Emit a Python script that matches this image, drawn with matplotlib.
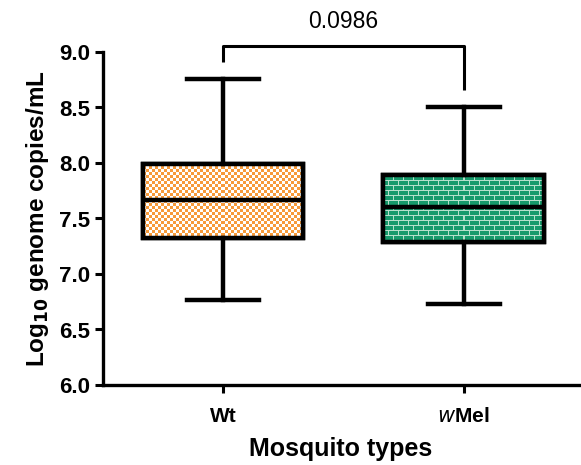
import numpy as np
import matplotlib
matplotlib.use("Agg")
import matplotlib.pyplot as plt

# ---- data ----
categories = ["Wt", "$\\it{w}$Mel"]
whisker_low = [6.77, 6.73]
q1 = [7.32, 7.29]
median = [7.67, 7.60]
q3 = [7.99, 7.89]
whisker_high = [8.76, 8.50]
p_value_text = "0.0986"
yticks = [6.0, 6.5, 7.0, 7.5, 8.0, 8.5, 9.0]

face_colors = ["#F79A3A", "#179A6B"]

plt.rcParams['font.family'] = ['Liberation Sans', 'DejaVu Sans']

fig = plt.figure(figsize=(5.81, 4.65), dpi=100)
ax = fig.add_axes([103/581, 80/465, 476/581, 333/465])

positions = [0, 1]
stats = []
for i in range(2):
    stats.append(dict(med=median[i], q1=q1[i], q3=q3[i],
                      whislo=whisker_low[i], whishi=whisker_high[i],
                      fliers=[], label=categories[i]))

bp = ax.bxp(stats, positions=positions, widths=0.667, patch_artist=True,
            showfliers=False,
            boxprops=dict(linewidth=3.2, edgecolor='black'),
            medianprops=dict(color='black', linewidth=3.2),
            whiskerprops=dict(color='black', linewidth=3.2),
            capprops=dict(color='black', linewidth=3.2),
            capwidths=0.3)

ax.set_xlim(-0.5, 1.48)
ax.set_ylim(6.0, 9.0)
fig.canvas.draw()

# textures clipped to the boxes
def checker(nx, ny, color):
    c = np.array(matplotlib.colors.to_rgb(color))
    img = np.tile(c, (ny, nx, 1))
    yy, xx = np.mgrid[0:ny, 0:nx]
    mask = ((xx // 3) + (yy // 3)) % 2 == 0
    img[mask] = [1, 1, 1]
    return img

def bricks(nx, ny, color):
    c = np.array(matplotlib.colors.to_rgb(color))
    mortar = np.array(matplotlib.colors.to_rgb("#B6E0CB"))
    img = np.tile(c, (ny, nx, 1))
    yy, xx = np.mgrid[0:ny, 0:nx]
    row = yy // 5
    hline = (yy % 5) == 0
    offset = np.where(row % 2 == 0, 0, 5)
    vline = ((xx + offset) % 10) == 0
    img[hline | vline] = mortar
    return img

makers = [checker, bricks]
for i, patch in enumerate(bp['boxes']):
    x0 = positions[i] - 0.667 / 2
    x1 = positions[i] + 0.667 / 2
    y0, y1 = q1[i], q3[i]
    p0 = ax.transData.transform((x0, y0))
    p1 = ax.transData.transform((x1, y1))
    nx = int(round(abs(p1[0] - p0[0])))
    ny = int(round(abs(p1[1] - p0[1])))
    img = makers[i](nx, ny, face_colors[i])
    im = ax.imshow(img, extent=[x0, x1, y0, y1], aspect='auto',
                   interpolation='nearest', zorder=1.5, origin='upper')
    im.set_clip_path(patch)
    patch.set_facecolor(face_colors[i])
    patch.set_zorder(1.4)
    patch_edge = plt.Rectangle((x0, y0), x1 - x0, y1 - y0, fill=False,
                               edgecolor='black', linewidth=3.2, zorder=2)
    ax.add_patch(patch_edge)
for m in bp['medians']:
    m.set_zorder(2.1)

ax.set_xlim(-0.5, 1.48)
ax.set_ylim(6.0, 9.0)

# significance bracket
bracket_top = 9.05
ax.plot([0, 0, 1, 1], [8.91, bracket_top, bracket_top, 8.66], color='black',
        linewidth=2.2, clip_on=False, solid_capstyle='butt')
ax.text(0.5, bracket_top + 0.12, p_value_text, ha='center', va='bottom',
        fontsize=16.5)

# axes styling
for s in ['top', 'right']:
    ax.spines[s].set_visible(False)
for s in ['left', 'bottom']:
    ax.spines[s].set_linewidth(2.4)
ax.set_yticks(yticks)
ax.set_yticklabels([f"{v:.1f}" for v in yticks], fontsize=16, fontweight='bold')
ax.set_xticks(positions)
ax.set_xticklabels(categories, fontsize=15, fontweight='bold')
ax.tick_params(axis='both', direction='out', length=6, width=2.2, pad=3)
ax.tick_params(axis='x', pad=10)
ax.set_ylabel("Log$_{\\mathbf{10}}$ genome copies/mL", fontsize=17.5,
              fontweight='bold', labelpad=6)
ax.set_xlabel("Mosquito types", fontsize=18, fontweight='bold', labelpad=8)

fig.savefig("out.png", dpi=100)
